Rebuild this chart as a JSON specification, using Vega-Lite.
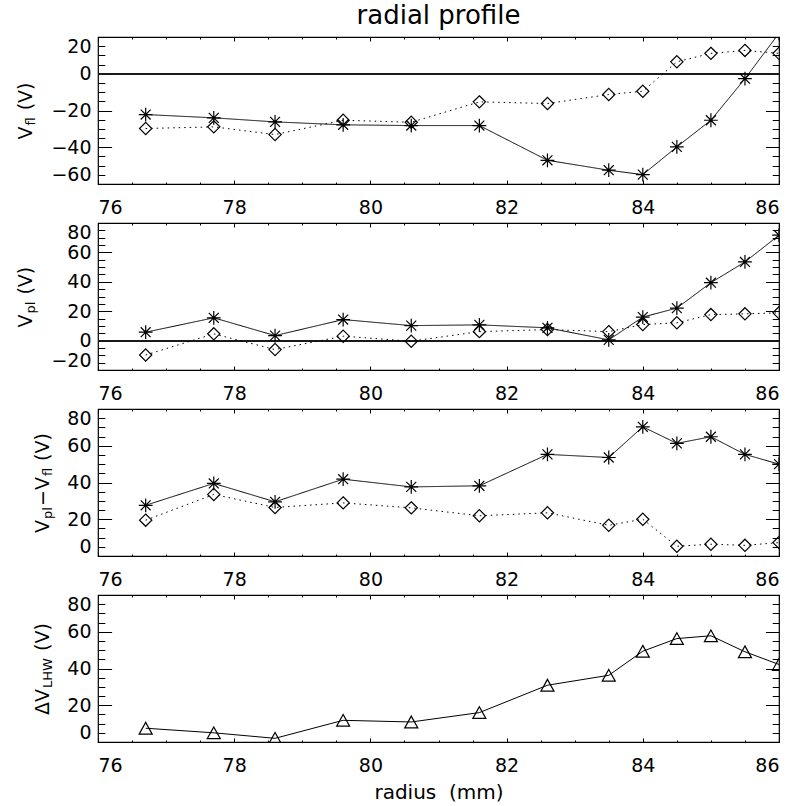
{
  "$schema": "https://vega.github.io/schema/vega-lite/v6.json",
  "background": "white",
  "padding": {"left": 15, "top": 2, "right": 10, "bottom": 2},
  "title": {"text": "radial profile", "fontSize": 26, "font": "DejaVu Sans", "fontWeight": "normal", "color": "black", "anchor": "middle", "frame": "group", "offset": 1},
  "spacing": 39,
  "bounds": "flush",
  "datasets": {
    "p1": [
      {"r": 76.7, "s": "a", "v": -22.2}, {"r": 77.7, "s": "a", "v": -24.0}, {"r": 78.6, "s": "a", "v": -26.2}, {"r": 79.6, "s": "a", "v": -27.8}, {"r": 80.6, "s": "a", "v": -28.2}, {"r": 81.6, "s": "a", "v": -28.2}, {"r": 82.6, "s": "a", "v": -47.1}, {"r": 83.5, "s": "a", "v": -52.5}, {"r": 84.0, "s": "a", "v": -54.9}, {"r": 84.5, "s": "a", "v": -39.8}, {"r": 85.0, "s": "a", "v": -25.3}, {"r": 85.5, "s": "a", "v": -2.7}, {"r": 86.0, "s": "a", "v": 22.0},
      {"r": 76.7, "s": "b", "v": -29.8}, {"r": 77.7, "s": "b", "v": -28.9}, {"r": 78.6, "s": "b", "v": -33.1}, {"r": 79.6, "s": "b", "v": -25.3}, {"r": 80.6, "s": "b", "v": -26.4}, {"r": 81.6, "s": "b", "v": -15.3}, {"r": 82.6, "s": "b", "v": -16.2}, {"r": 83.5, "s": "b", "v": -11.3}, {"r": 84.0, "s": "b", "v": -9.5}, {"r": 84.5, "s": "b", "v": 6.5}, {"r": 85.0, "s": "b", "v": 11.1}, {"r": 85.5, "s": "b", "v": 12.7}, {"r": 86.0, "s": "b", "v": 11.1}
    ],
    "p2": [
      {"r": 76.7, "s": "a", "v": 5.7}, {"r": 77.7, "s": "a", "v": 15.5}, {"r": 78.6, "s": "a", "v": 3.4}, {"r": 79.6, "s": "a", "v": 14.3}, {"r": 80.6, "s": "a", "v": 10.2}, {"r": 81.6, "s": "a", "v": 10.7}, {"r": 82.6, "s": "a", "v": 8.7}, {"r": 83.5, "s": "a", "v": 0.5}, {"r": 84.0, "s": "a", "v": 16.0}, {"r": 84.5, "s": "a", "v": 22.1}, {"r": 85.0, "s": "a", "v": 39.4}, {"r": 85.5, "s": "a", "v": 53.5}, {"r": 86.0, "s": "a", "v": 71.7},
      {"r": 76.7, "s": "b", "v": -9.8}, {"r": 77.7, "s": "b", "v": 4.6}, {"r": 78.6, "s": "b", "v": -6.1}, {"r": 79.6, "s": "b", "v": 3.0}, {"r": 80.6, "s": "b", "v": -0.4}, {"r": 81.6, "s": "b", "v": 6.1}, {"r": 82.6, "s": "b", "v": 7.5}, {"r": 83.5, "s": "b", "v": 6.1}, {"r": 84.0, "s": "b", "v": 10.9}, {"r": 84.5, "s": "b", "v": 12.1}, {"r": 85.0, "s": "b", "v": 17.7}, {"r": 85.5, "s": "b", "v": 18.2}, {"r": 86.0, "s": "b", "v": 18.9}
    ],
    "p3": [
      {"r": 76.7, "s": "a", "v": 27.6}, {"r": 77.7, "s": "a", "v": 39.5}, {"r": 78.6, "s": "a", "v": 29.5}, {"r": 79.6, "s": "a", "v": 41.8}, {"r": 80.6, "s": "a", "v": 37.6}, {"r": 81.6, "s": "a", "v": 38.2}, {"r": 82.6, "s": "a", "v": 55.3}, {"r": 83.5, "s": "a", "v": 53.6}, {"r": 84.0, "s": "a", "v": 70.3}, {"r": 84.5, "s": "a", "v": 61.3}, {"r": 85.0, "s": "a", "v": 64.9}, {"r": 85.5, "s": "a", "v": 55.3}, {"r": 86.0, "s": "a", "v": 50.0},
      {"r": 76.7, "s": "b", "v": 19.5}, {"r": 77.7, "s": "b", "v": 33.5}, {"r": 78.6, "s": "b", "v": 26.4}, {"r": 79.6, "s": "b", "v": 28.9}, {"r": 80.6, "s": "b", "v": 26.2}, {"r": 81.6, "s": "b", "v": 21.9}, {"r": 82.6, "s": "b", "v": 23.5}, {"r": 83.5, "s": "b", "v": 16.7}, {"r": 84.0, "s": "b", "v": 20.0}, {"r": 84.5, "s": "b", "v": 5.3}, {"r": 85.0, "s": "b", "v": 6.4}, {"r": 85.5, "s": "b", "v": 5.8}, {"r": 86.0, "s": "b", "v": 7.3}
    ],
    "p4": [
      {"r": 76.7, "v": 7.5}, {"r": 77.7, "v": 5.0}, {"r": 78.6, "v": 2.0}, {"r": 79.6, "v": 11.8}, {"r": 80.6, "v": 10.9}, {"r": 81.6, "v": 16.0}, {"r": 82.6, "v": 30.9}, {"r": 83.5, "v": 36.3}, {"r": 84.0, "v": 49.4}, {"r": 84.5, "v": 56.3}, {"r": 85.0, "v": 57.8}, {"r": 85.5, "v": 49.1}, {"r": 86.0, "v": 42.2}
    ]
  },
  "vconcat": [
    {
      "width": 681, "height": 147,
      "data": {"name": "p1"},
      "resolve": {"scale": {"x": "independent", "y": "independent"}},
      "layer": [
        {
          "layer": [
            {"mark": {"type": "rule", "color": "#1a1a1a", "strokeWidth": 1.3},
             "encoding": {"y": {"datum": 0, "type": "quantitative", "scale": {"domain": [-60, 20], "nice": false, "zero": false},
               "axis": {"orient": "left", "values": [-60, -40, -20, 0, 20], "format": "d", "tickSize": -13.6, "labelPadding": 20.6, "labelFlush": true, "title": "V", "titleX": -66.5, "titleY": 102, "titleAlign": "left", "titleBaseline": "alphabetic", "titleAngle": 270}}}},
            {"mark": {"type": "line", "color": "black", "strokeWidth": 1, "clip": true},
             "encoding": {
               "x": {"field": "r", "type": "quantitative", "scale": {"domain": [76, 86], "nice": false, "zero": false}, "axis": {"orient": "bottom", "values": [76, 78, 80, 82, 84, 86], "format": "d", "tickSize": -4, "labelPadding": 18, "title": null}},
               "y": {"field": "v", "type": "quantitative", "scale": {"domain": [-60, 20], "nice": false, "zero": false},
                 "axis": {"orient": "left", "values": [-60, -40, -20, 0, 20], "format": "d", "tickSize": -13.6, "labelPadding": 20.6, "labelFlush": true, "title": "V", "titleX": -66.5, "titleY": 102, "titleAlign": "left", "titleBaseline": "alphabetic", "titleAngle": 270}},
               "strokeDash": {"field": "s", "type": "nominal", "scale": {"domain": ["a", "b"], "range": [[1, 0], [1.5, 4]]}, "legend": null}}},
            {"mark": {"type": "point", "filled": false, "stroke": "black", "strokeWidth": 1.2, "opacity": 1, "clip": true},
             "encoding": {
               "x": {"field": "r", "type": "quantitative", "scale": {"domain": [76, 86], "nice": false, "zero": false}, "axis": {"orient": "bottom", "values": [76, 78, 80, 82, 84, 86], "format": "d", "tickSize": -4, "labelPadding": 18, "title": null}},
               "y": {"field": "v", "type": "quantitative", "scale": {"domain": [-60, 20], "nice": false, "zero": false},
                 "axis": {"orient": "left", "values": [-60, -40, -20, 0, 20], "format": "d", "tickSize": -13.6, "labelPadding": 20.6, "labelFlush": true, "title": "V", "titleX": -66.5, "titleY": 102, "titleAlign": "left", "titleBaseline": "alphabetic", "titleAngle": 270}},
               "shape": {"field": "s", "type": "nominal", "scale": {"domain": ["a", "b"], "range": ["M-1,0L1,0M0,-1L0,1M-0.72,-0.72L0.72,0.72M-0.72,0.72L0.72,-0.72", "M0,-1L1,0L0,1L-1,0Z"]}, "legend": null},
               "size": {"field": "s", "type": "nominal", "scale": {"domain": ["a", "b"], "range": [190, 150]}, "legend": null}}}
          ]
        },
        {"mark": {"type": "point", "opacity": 0},
         "encoding": {
           "x": {"field": "r", "type": "quantitative", "scale": {"domain": [76, 86], "nice": false, "zero": false}, "axis": {"orient": "top", "values": [76, 78, 80, 82, 84, 86], "labels": false, "tickSize": -4, "title": null}},
           "y": {"field": "v", "type": "quantitative", "scale": {"domain": [-60, 20], "nice": false, "zero": false}, "axis": {"orient": "right", "values": [-60, -40, -20, 0, 20], "labels": false, "tickSize": -13.6, "title": null}}}},
        {"mark": {"type": "point", "opacity": 0},
         "encoding": {
           "x": {"field": "r", "type": "quantitative", "scale": {"domain": [76, 86], "nice": false, "zero": false}, "axis": {"orient": "bottom", "values": [76.5, 77, 77.5, 78.5, 79, 79.5, 80.5, 81, 81.5, 82.5, 83, 83.5, 84.5, 85, 85.5], "labels": false, "tickSize": -2, "title": null}},
           "y": {"field": "v", "type": "quantitative", "scale": {"domain": [-60, 20], "nice": false, "zero": false}, "axis": {"orient": "left", "values": [-55, -50, -45, -35, -30, -25, -15, -10, -5, 5, 10, 15], "labels": false, "tickSize": -6.8, "title": null}}}},
        {"mark": {"type": "point", "opacity": 0},
         "encoding": {
           "x": {"field": "r", "type": "quantitative", "scale": {"domain": [76, 86], "nice": false, "zero": false}, "axis": {"orient": "top", "values": [76.5, 77, 77.5, 78.5, 79, 79.5, 80.5, 81, 81.5, 82.5, 83, 83.5, 84.5, 85, 85.5], "labels": false, "tickSize": -2, "title": null}},
           "y": {"field": "v", "type": "quantitative", "scale": {"domain": [-60, 20], "nice": false, "zero": false}, "axis": {"orient": "right", "values": [-55, -50, -45, -35, -30, -25, -15, -10, -5, 5, 10, 15], "labels": false, "tickSize": -6.8, "title": null}}}},
        {"mark": {"type": "point", "opacity": 0},
         "encoding": {
           "x": {"field": "r", "type": "quantitative", "scale": {"domain": [76, 86], "nice": false, "zero": false}, "axis": null},
           "y": {"field": "v", "type": "quantitative", "scale": {"domain": [-60, 20], "nice": false, "zero": false}, "axis": {"orient": "left", "labels": false, "ticks": false, "domain": false, "grid": false, "title": "fl", "titleFontSize": 13, "titleX": -63.5, "titleY": 88, "titleAlign": "left", "titleBaseline": "alphabetic", "titleAngle": 270}}}},
        {"mark": {"type": "point", "opacity": 0},
         "encoding": {
           "x": {"field": "r", "type": "quantitative", "scale": {"domain": [76, 86], "nice": false, "zero": false}, "axis": null},
           "y": {"field": "v", "type": "quantitative", "scale": {"domain": [-60, 20], "nice": false, "zero": false}, "axis": {"orient": "left", "labels": false, "ticks": false, "domain": false, "grid": false, "title": "(V)", "titleX": -66.5, "titleY": 72.8, "titleAlign": "left", "titleBaseline": "alphabetic", "titleAngle": 270}}}}
      ]
    },
    {
      "width": 681, "height": 147,
      "data": {"name": "p2"},
      "resolve": {"scale": {"x": "independent", "y": "independent"}},
      "layer": [
        {
          "layer": [
            {"mark": {"type": "rule", "color": "#1a1a1a", "strokeWidth": 1.3},
             "encoding": {"y": {"datum": 0, "type": "quantitative", "scale": {"domain": [-20, 80], "nice": false, "zero": false},
               "axis": {"orient": "left", "values": [-20, 0, 20, 40, 60, 80], "format": "d", "tickSize": -13.6, "labelPadding": 20.6, "labelFlush": true, "title": "V", "titleX": -66.5, "titleY": 104, "titleAlign": "left", "titleBaseline": "alphabetic", "titleAngle": 270}}}},
            {"mark": {"type": "line", "color": "black", "strokeWidth": 1, "clip": true},
             "encoding": {
               "x": {"field": "r", "type": "quantitative", "scale": {"domain": [76, 86], "nice": false, "zero": false}, "axis": {"orient": "bottom", "values": [76, 78, 80, 82, 84, 86], "format": "d", "tickSize": -4, "labelPadding": 18, "title": null}},
               "y": {"field": "v", "type": "quantitative", "scale": {"domain": [-20, 80], "nice": false, "zero": false},
                 "axis": {"orient": "left", "values": [-20, 0, 20, 40, 60, 80], "format": "d", "tickSize": -13.6, "labelPadding": 20.6, "labelFlush": true, "title": "V", "titleX": -66.5, "titleY": 104, "titleAlign": "left", "titleBaseline": "alphabetic", "titleAngle": 270}},
               "strokeDash": {"field": "s", "type": "nominal", "scale": {"domain": ["a", "b"], "range": [[1, 0], [1.5, 4]]}, "legend": null}}},
            {"mark": {"type": "point", "filled": false, "stroke": "black", "strokeWidth": 1.2, "opacity": 1, "clip": true},
             "encoding": {
               "x": {"field": "r", "type": "quantitative", "scale": {"domain": [76, 86], "nice": false, "zero": false}, "axis": {"orient": "bottom", "values": [76, 78, 80, 82, 84, 86], "format": "d", "tickSize": -4, "labelPadding": 18, "title": null}},
               "y": {"field": "v", "type": "quantitative", "scale": {"domain": [-20, 80], "nice": false, "zero": false},
                 "axis": {"orient": "left", "values": [-20, 0, 20, 40, 60, 80], "format": "d", "tickSize": -13.6, "labelPadding": 20.6, "labelFlush": true, "title": "V", "titleX": -66.5, "titleY": 104, "titleAlign": "left", "titleBaseline": "alphabetic", "titleAngle": 270}},
               "shape": {"field": "s", "type": "nominal", "scale": {"domain": ["a", "b"], "range": ["M-1,0L1,0M0,-1L0,1M-0.72,-0.72L0.72,0.72M-0.72,0.72L0.72,-0.72", "M0,-1L1,0L0,1L-1,0Z"]}, "legend": null},
               "size": {"field": "s", "type": "nominal", "scale": {"domain": ["a", "b"], "range": [190, 150]}, "legend": null}}}
          ]
        },
        {"mark": {"type": "point", "opacity": 0},
         "encoding": {
           "x": {"field": "r", "type": "quantitative", "scale": {"domain": [76, 86], "nice": false, "zero": false}, "axis": {"orient": "top", "values": [76, 78, 80, 82, 84, 86], "labels": false, "tickSize": -4, "title": null}},
           "y": {"field": "v", "type": "quantitative", "scale": {"domain": [-20, 80], "nice": false, "zero": false}, "axis": {"orient": "right", "values": [-20, 0, 20, 40, 60, 80], "labels": false, "tickSize": -13.6, "title": null}}}},
        {"mark": {"type": "point", "opacity": 0},
         "encoding": {
           "x": {"field": "r", "type": "quantitative", "scale": {"domain": [76, 86], "nice": false, "zero": false}, "axis": {"orient": "bottom", "values": [76.5, 77, 77.5, 78.5, 79, 79.5, 80.5, 81, 81.5, 82.5, 83, 83.5, 84.5, 85, 85.5], "labels": false, "tickSize": -2, "title": null}},
           "y": {"field": "v", "type": "quantitative", "scale": {"domain": [-20, 80], "nice": false, "zero": false}, "axis": {"orient": "left", "values": [-15, -10, -5, 5, 10, 15, 25, 30, 35, 45, 50, 55, 65, 70, 75], "labels": false, "tickSize": -6.8, "title": null}}}},
        {"mark": {"type": "point", "opacity": 0},
         "encoding": {
           "x": {"field": "r", "type": "quantitative", "scale": {"domain": [76, 86], "nice": false, "zero": false}, "axis": {"orient": "top", "values": [76.5, 77, 77.5, 78.5, 79, 79.5, 80.5, 81, 81.5, 82.5, 83, 83.5, 84.5, 85, 85.5], "labels": false, "tickSize": -2, "title": null}},
           "y": {"field": "v", "type": "quantitative", "scale": {"domain": [-20, 80], "nice": false, "zero": false}, "axis": {"orient": "right", "values": [-15, -10, -5, 5, 10, 15, 25, 30, 35, 45, 50, 55, 65, 70, 75], "labels": false, "tickSize": -6.8, "title": null}}}},
        {"mark": {"type": "point", "opacity": 0},
         "encoding": {
           "x": {"field": "r", "type": "quantitative", "scale": {"domain": [76, 86], "nice": false, "zero": false}, "axis": null},
           "y": {"field": "v", "type": "quantitative", "scale": {"domain": [-20, 80], "nice": false, "zero": false}, "axis": {"orient": "left", "labels": false, "ticks": false, "domain": false, "grid": false, "title": "pl", "titleFontSize": 13, "titleX": -63.5, "titleY": 90, "titleAlign": "left", "titleBaseline": "alphabetic", "titleAngle": 270}}}},
        {"mark": {"type": "point", "opacity": 0},
         "encoding": {
           "x": {"field": "r", "type": "quantitative", "scale": {"domain": [76, 86], "nice": false, "zero": false}, "axis": null},
           "y": {"field": "v", "type": "quantitative", "scale": {"domain": [-20, 80], "nice": false, "zero": false}, "axis": {"orient": "left", "labels": false, "ticks": false, "domain": false, "grid": false, "title": "(V)", "titleX": -66.5, "titleY": 71.1, "titleAlign": "left", "titleBaseline": "alphabetic", "titleAngle": 270}}}}
      ]
    },
    {
      "width": 681, "height": 147,
      "data": {"name": "p3"},
      "resolve": {"scale": {"x": "independent", "y": "independent"}},
      "layer": [
        {
          "layer": [
            {"mark": {"type": "line", "color": "black", "strokeWidth": 1, "clip": true},
             "encoding": {
               "x": {"field": "r", "type": "quantitative", "scale": {"domain": [76, 86], "nice": false, "zero": false}, "axis": {"orient": "bottom", "values": [76, 78, 80, 82, 84, 86], "format": "d", "tickSize": -4, "labelPadding": 18, "title": null}},
               "y": {"field": "v", "type": "quantitative", "scale": {"domain": [0, 80], "nice": false, "zero": false},
                 "axis": {"orient": "left", "values": [0, 20, 40, 60, 80], "format": "d", "tickSize": -13.6, "labelPadding": 20.6, "labelFlush": true, "title": "V", "titleX": -49.5, "titleY": 123.4, "titleAlign": "left", "titleBaseline": "alphabetic", "titleAngle": 270}},
               "strokeDash": {"field": "s", "type": "nominal", "scale": {"domain": ["a", "b"], "range": [[1, 0], [1.5, 4]]}, "legend": null}}},
            {"mark": {"type": "point", "filled": false, "stroke": "black", "strokeWidth": 1.2, "opacity": 1, "clip": true},
             "encoding": {
               "x": {"field": "r", "type": "quantitative", "scale": {"domain": [76, 86], "nice": false, "zero": false}, "axis": {"orient": "bottom", "values": [76, 78, 80, 82, 84, 86], "format": "d", "tickSize": -4, "labelPadding": 18, "title": null}},
               "y": {"field": "v", "type": "quantitative", "scale": {"domain": [0, 80], "nice": false, "zero": false},
                 "axis": {"orient": "left", "values": [0, 20, 40, 60, 80], "format": "d", "tickSize": -13.6, "labelPadding": 20.6, "labelFlush": true, "title": "V", "titleX": -49.5, "titleY": 123.4, "titleAlign": "left", "titleBaseline": "alphabetic", "titleAngle": 270}},
               "shape": {"field": "s", "type": "nominal", "scale": {"domain": ["a", "b"], "range": ["M-1,0L1,0M0,-1L0,1M-0.72,-0.72L0.72,0.72M-0.72,0.72L0.72,-0.72", "M0,-1L1,0L0,1L-1,0Z"]}, "legend": null},
               "size": {"field": "s", "type": "nominal", "scale": {"domain": ["a", "b"], "range": [190, 150]}, "legend": null}}}
          ]
        },
        {"mark": {"type": "point", "opacity": 0},
         "encoding": {
           "x": {"field": "r", "type": "quantitative", "scale": {"domain": [76, 86], "nice": false, "zero": false}, "axis": {"orient": "top", "values": [76, 78, 80, 82, 84, 86], "labels": false, "tickSize": -4, "title": null}},
           "y": {"field": "v", "type": "quantitative", "scale": {"domain": [0, 80], "nice": false, "zero": false}, "axis": {"orient": "right", "values": [0, 20, 40, 60, 80], "labels": false, "tickSize": -13.6, "title": null}}}},
        {"mark": {"type": "point", "opacity": 0},
         "encoding": {
           "x": {"field": "r", "type": "quantitative", "scale": {"domain": [76, 86], "nice": false, "zero": false}, "axis": {"orient": "bottom", "values": [76.5, 77, 77.5, 78.5, 79, 79.5, 80.5, 81, 81.5, 82.5, 83, 83.5, 84.5, 85, 85.5], "labels": false, "tickSize": -2, "title": null}},
           "y": {"field": "v", "type": "quantitative", "scale": {"domain": [0, 80], "nice": false, "zero": false}, "axis": {"orient": "left", "values": [5, 10, 15, 25, 30, 35, 45, 50, 55, 65, 70, 75], "labels": false, "tickSize": -6.8, "title": null}}}},
        {"mark": {"type": "point", "opacity": 0},
         "encoding": {
           "x": {"field": "r", "type": "quantitative", "scale": {"domain": [76, 86], "nice": false, "zero": false}, "axis": {"orient": "top", "values": [76.5, 77, 77.5, 78.5, 79, 79.5, 80.5, 81, 81.5, 82.5, 83, 83.5, 84.5, 85, 85.5], "labels": false, "tickSize": -2, "title": null}},
           "y": {"field": "v", "type": "quantitative", "scale": {"domain": [0, 80], "nice": false, "zero": false}, "axis": {"orient": "right", "values": [5, 10, 15, 25, 30, 35, 45, 50, 55, 65, 70, 75], "labels": false, "tickSize": -6.8, "title": null}}}},
        {"mark": {"type": "point", "opacity": 0},
         "encoding": {
           "x": {"field": "r", "type": "quantitative", "scale": {"domain": [76, 86], "nice": false, "zero": false}, "axis": null},
           "y": {"field": "v", "type": "quantitative", "scale": {"domain": [0, 80], "nice": false, "zero": false}, "axis": {"orient": "left", "labels": false, "ticks": false, "domain": false, "grid": false, "title": "pl", "titleFontSize": 13, "titleX": -46.5, "titleY": 109.4, "titleAlign": "left", "titleBaseline": "alphabetic", "titleAngle": 270}}}},
        {"mark": {"type": "point", "opacity": 0},
         "encoding": {
           "x": {"field": "r", "type": "quantitative", "scale": {"domain": [76, 86], "nice": false, "zero": false}, "axis": null},
           "y": {"field": "v", "type": "quantitative", "scale": {"domain": [0, 80], "nice": false, "zero": false}, "axis": {"orient": "left", "labels": false, "ticks": false, "domain": false, "grid": false, "title": "−V", "titleX": -49.5, "titleY": 96.5, "titleAlign": "left", "titleBaseline": "alphabetic", "titleAngle": 270}}}},
        {"mark": {"type": "point", "opacity": 0},
         "encoding": {
           "x": {"field": "r", "type": "quantitative", "scale": {"domain": [76, 86], "nice": false, "zero": false}, "axis": null},
           "y": {"field": "v", "type": "quantitative", "scale": {"domain": [0, 80], "nice": false, "zero": false}, "axis": {"orient": "left", "labels": false, "ticks": false, "domain": false, "grid": false, "title": "fl", "titleFontSize": 13, "titleX": -46.5, "titleY": 66.6, "titleAlign": "left", "titleBaseline": "alphabetic", "titleAngle": 270}}}},
        {"mark": {"type": "point", "opacity": 0},
         "encoding": {
           "x": {"field": "r", "type": "quantitative", "scale": {"domain": [76, 86], "nice": false, "zero": false}, "axis": null},
           "y": {"field": "v", "type": "quantitative", "scale": {"domain": [0, 80], "nice": false, "zero": false}, "axis": {"orient": "left", "labels": false, "ticks": false, "domain": false, "grid": false, "title": "(V)", "titleX": -49.5, "titleY": 51.4, "titleAlign": "left", "titleBaseline": "alphabetic", "titleAngle": 270}}}}
      ]
    },
    {
      "width": 681, "height": 147,
      "data": {"name": "p4"},
      "resolve": {"scale": {"x": "independent", "y": "independent"}},
      "layer": [
        {
          "layer": [
            {"mark": {"type": "line", "color": "black", "strokeWidth": 1, "clip": true},
             "encoding": {
               "x": {"field": "r", "type": "quantitative", "scale": {"domain": [76, 86], "nice": false, "zero": false}, "axis": {"orient": "bottom", "values": [76, 78, 80, 82, 84, 86], "format": "d", "tickSize": -4, "labelPadding": 18, "title": "radius\u00a0\u00a0(mm)", "titleFontSize": 20, "titleY": 56, "titleBaseline": "alphabetic"}},
               "y": {"field": "v", "type": "quantitative", "scale": {"domain": [0, 80], "nice": false, "zero": false},
                 "axis": {"orient": "left", "values": [0, 20, 40, 60, 80], "format": "d", "tickSize": -13.6, "labelPadding": 20.6, "labelFlush": true, "title": "ΔV", "titleX": -49.5, "titleY": 119.4, "titleAlign": "left", "titleBaseline": "alphabetic", "titleAngle": 270}}}},
            {"mark": {"type": "point", "filled": false, "stroke": "black", "strokeWidth": 1.2, "opacity": 1, "size": 170, "clip": true, "shape": "M0,-0.9L1,0.9L-1,0.9Z"},
             "encoding": {
               "x": {"field": "r", "type": "quantitative", "scale": {"domain": [76, 86], "nice": false, "zero": false}, "axis": {"orient": "bottom", "values": [76, 78, 80, 82, 84, 86], "format": "d", "tickSize": -4, "labelPadding": 18, "title": "radius\u00a0\u00a0(mm)", "titleFontSize": 20, "titleY": 56, "titleBaseline": "alphabetic"}},
               "y": {"field": "v", "type": "quantitative", "scale": {"domain": [0, 80], "nice": false, "zero": false},
                 "axis": {"orient": "left", "values": [0, 20, 40, 60, 80], "format": "d", "tickSize": -13.6, "labelPadding": 20.6, "labelFlush": true, "title": "ΔV", "titleX": -49.5, "titleY": 119.4, "titleAlign": "left", "titleBaseline": "alphabetic", "titleAngle": 270}}}}
          ]
        },
        {"mark": {"type": "point", "opacity": 0},
         "encoding": {
           "x": {"field": "r", "type": "quantitative", "scale": {"domain": [76, 86], "nice": false, "zero": false}, "axis": {"orient": "top", "values": [76, 78, 80, 82, 84, 86], "labels": false, "tickSize": -4, "title": null}},
           "y": {"field": "v", "type": "quantitative", "scale": {"domain": [0, 80], "nice": false, "zero": false}, "axis": {"orient": "right", "values": [0, 20, 40, 60, 80], "labels": false, "tickSize": -13.6, "title": null}}}},
        {"mark": {"type": "point", "opacity": 0},
         "encoding": {
           "x": {"field": "r", "type": "quantitative", "scale": {"domain": [76, 86], "nice": false, "zero": false}, "axis": {"orient": "bottom", "values": [76.5, 77, 77.5, 78.5, 79, 79.5, 80.5, 81, 81.5, 82.5, 83, 83.5, 84.5, 85, 85.5], "labels": false, "tickSize": -2, "title": null}},
           "y": {"field": "v", "type": "quantitative", "scale": {"domain": [0, 80], "nice": false, "zero": false}, "axis": {"orient": "left", "values": [5, 10, 15, 25, 30, 35, 45, 50, 55, 65, 70, 75], "labels": false, "tickSize": -6.8, "title": null}}}},
        {"mark": {"type": "point", "opacity": 0},
         "encoding": {
           "x": {"field": "r", "type": "quantitative", "scale": {"domain": [76, 86], "nice": false, "zero": false}, "axis": {"orient": "top", "values": [76.5, 77, 77.5, 78.5, 79, 79.5, 80.5, 81, 81.5, 82.5, 83, 83.5, 84.5, 85, 85.5], "labels": false, "tickSize": -2, "title": null}},
           "y": {"field": "v", "type": "quantitative", "scale": {"domain": [0, 80], "nice": false, "zero": false}, "axis": {"orient": "right", "values": [5, 10, 15, 25, 30, 35, 45, 50, 55, 65, 70, 75], "labels": false, "tickSize": -6.8, "title": null}}}},
        {"mark": {"type": "point", "opacity": 0},
         "encoding": {
           "x": {"field": "r", "type": "quantitative", "scale": {"domain": [76, 86], "nice": false, "zero": false}, "axis": null},
           "y": {"field": "v", "type": "quantitative", "scale": {"domain": [0, 80], "nice": false, "zero": false}, "axis": {"orient": "left", "labels": false, "ticks": false, "domain": false, "grid": false, "title": "LHW", "titleFontSize": 13, "titleX": -46.5, "titleY": 92.4, "titleAlign": "left", "titleBaseline": "alphabetic", "titleAngle": 270}}}},
        {"mark": {"type": "point", "opacity": 0},
         "encoding": {
           "x": {"field": "r", "type": "quantitative", "scale": {"domain": [76, 86], "nice": false, "zero": false}, "axis": null},
           "y": {"field": "v", "type": "quantitative", "scale": {"domain": [0, 80], "nice": false, "zero": false}, "axis": {"orient": "left", "labels": false, "ticks": false, "domain": false, "grid": false, "title": "(V)", "titleX": -49.5, "titleY": 55.5, "titleAlign": "left", "titleBaseline": "alphabetic", "titleAngle": 270}}}}
      ]
    }
  ],
  "config": {
    "font": "DejaVu Sans",
    "view": {"stroke": "black", "strokeWidth": 1.2},
    "axis": {"domain": false, "grid": false, "tickColor": "black", "tickWidth": 1, "labelFont": "DejaVu Sans", "labelFontSize": 19, "labelColor": "black", "titleFont": "DejaVu Sans", "titleFontSize": 19, "titleFontWeight": "normal", "titleColor": "black", "labelOverlap": false, "labelBound": false}
  }
}
